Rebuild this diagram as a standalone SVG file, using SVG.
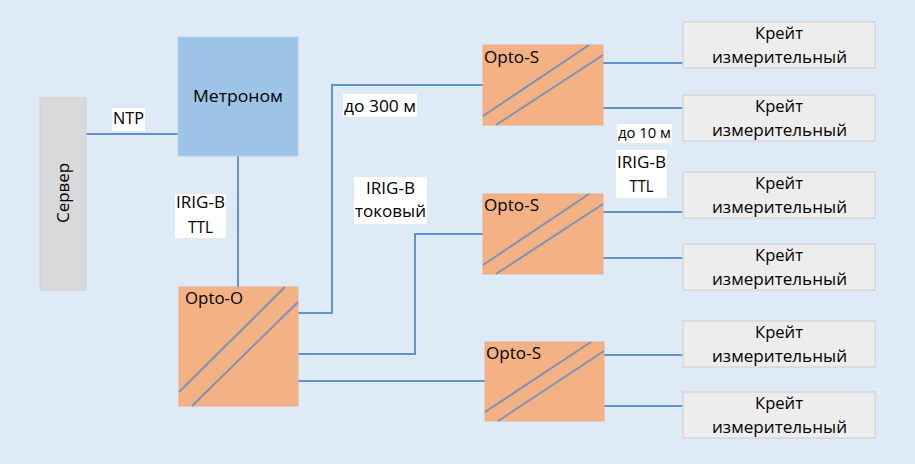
<svg xmlns="http://www.w3.org/2000/svg" width="915" height="464" viewBox="0 0 915 464">
<style>
text{font-family:"Open Sans","Noto Sans","Liberation Sans",sans-serif;font-size:16px;fill:#000;}
.c{text-anchor:middle;}
.con{fill:none;stroke:#5f93cc;stroke-width:2;}
.opto{fill:#f4b183;stroke:#eab08a;stroke-width:1;}
.diag{stroke:#7b93b4;stroke-width:2;fill:none;}
.crate{fill:#ededed;stroke:#d6d6d6;stroke-width:1.5;}
.lbl{fill:#fff;}
</style>
<rect width="915" height="464" fill="#deeaf6"/>
<g id="connectors">
<path class="con" d="M86 134H178"/>
<path class="con" d="M238 156V287"/>
<path class="con" d="M298 313H332V85H483"/>
<path class="con" d="M298 354H415V234H483"/>
<path class="con" d="M298 381H485"/>
<path class="con" d="M603 63H683"/>
<path class="con" d="M603 108H683"/>
<path class="con" d="M603 212H683"/>
<path class="con" d="M603 258H683"/>
<path class="con" d="M604 355H683"/>
<path class="con" d="M604 406H683"/>
</g>
<g id="labels">
<rect class="lbl" x="112" y="108" width="33" height="23"/>
<text class="c" x="128.5" y="124" textLength="31" lengthAdjust="spacingAndGlyphs">NTP</text>
<rect class="lbl" x="175" y="194" width="51" height="44"/>
<text class="c" x="200.5" y="208" textLength="49" lengthAdjust="spacingAndGlyphs">IRIG-B</text>
<text class="c" x="200.5" y="233" textLength="25" lengthAdjust="spacingAndGlyphs">TTL</text>
<rect class="lbl" x="343" y="94" width="74" height="23"/>
<text class="c" x="380" y="112" textLength="72" lengthAdjust="spacingAndGlyphs">до 300 м</text>
<rect class="lbl" x="354" y="177" width="73" height="47"/>
<text class="c" x="390.5" y="194" textLength="49" lengthAdjust="spacingAndGlyphs">IRIG-B</text>
<text class="c" x="390.5" y="217" textLength="71" lengthAdjust="spacingAndGlyphs">токовый</text>
<rect class="lbl" x="617" y="124" width="55" height="19"/>
<text class="c" x="644.5" y="138" style="font-size:14px" textLength="53" lengthAdjust="spacingAndGlyphs">до 10 м</text>
<rect class="lbl" x="616" y="150" width="51" height="48"/>
<text class="c" x="641.5" y="168" textLength="49" lengthAdjust="spacingAndGlyphs">IRIG-B</text>
<text class="c" x="641.5" y="192" textLength="24" lengthAdjust="spacingAndGlyphs">TTL</text>
</g>
<g id="server">
<rect x="40" y="98" width="46" height="192" fill="#d9d9d9" stroke="#cfcfcf" stroke-width="1"/>
<text class="c" transform="translate(69,193) rotate(-90)" textLength="60" lengthAdjust="spacingAndGlyphs">Сервер</text>
</g>
<g id="metronome">
<rect x="178" y="37" width="120" height="119" fill="#9dc3e6" stroke="#b4d0ea" stroke-width="1"/>
<text class="c" x="238" y="102" textLength="90" lengthAdjust="spacingAndGlyphs">Метроном</text>
</g>
<g id="opto-o">
<rect class="opto" x="179" y="287" width="119" height="119"/>
<path class="diag" d="M179 392L285 287M192 406L298 302"/>
<text x="185" y="304" textLength="58" lengthAdjust="spacingAndGlyphs">Opto-O</text>
</g>
<g id="opto-s1">
<rect class="opto" x="483" y="45" width="120" height="80"/>
<path class="diag" d="M483 116L589 45M496 125L603 55"/>
<text x="484" y="63" textLength="55" lengthAdjust="spacingAndGlyphs">Opto-S</text>
</g>
<g id="opto-s2">
<rect class="opto" x="483" y="194" width="120" height="80"/>
<path class="diag" d="M483 265L589 194M496 274L603 204"/>
<text x="484" y="211" textLength="55" lengthAdjust="spacingAndGlyphs">Opto-S</text>
</g>
<g id="opto-s3">
<rect class="opto" x="485" y="342" width="119" height="79"/>
<path class="diag" d="M485 412L591 342M498 421L604 351"/>
<text x="486" y="359" textLength="55" lengthAdjust="spacingAndGlyphs">Opto-S</text>
</g>
<g id="crate1">
<rect class="crate" x="683" y="22" width="192" height="46"/>
<text class="c" x="779" y="39" textLength="48" lengthAdjust="spacingAndGlyphs">Крейт</text>
<text class="c" x="779.5" y="63" textLength="135" lengthAdjust="spacingAndGlyphs">измерительный</text>
</g>
<g id="crate2">
<rect class="crate" x="683" y="95" width="192" height="46"/>
<text class="c" x="779" y="112" textLength="48" lengthAdjust="spacingAndGlyphs">Крейт</text>
<text class="c" x="779.5" y="136" textLength="135" lengthAdjust="spacingAndGlyphs">измерительный</text>
</g>
<g id="crate3">
<rect class="crate" x="683" y="172" width="192" height="46"/>
<text class="c" x="779" y="189" textLength="48" lengthAdjust="spacingAndGlyphs">Крейт</text>
<text class="c" x="779.5" y="213" textLength="135" lengthAdjust="spacingAndGlyphs">измерительный</text>
</g>
<g id="crate4">
<rect class="crate" x="683" y="244" width="192" height="46"/>
<text class="c" x="779" y="261" textLength="48" lengthAdjust="spacingAndGlyphs">Крейт</text>
<text class="c" x="779.5" y="285" textLength="135" lengthAdjust="spacingAndGlyphs">измерительный</text>
</g>
<g id="crate5">
<rect class="crate" x="683" y="321" width="192" height="46"/>
<text class="c" x="779" y="338" textLength="48" lengthAdjust="spacingAndGlyphs">Крейт</text>
<text class="c" x="779.5" y="362" textLength="135" lengthAdjust="spacingAndGlyphs">измерительный</text>
</g>
<g id="crate6">
<rect class="crate" x="683" y="392" width="192" height="46"/>
<text class="c" x="779" y="409" textLength="48" lengthAdjust="spacingAndGlyphs">Крейт</text>
<text class="c" x="779.5" y="433" textLength="135" lengthAdjust="spacingAndGlyphs">измерительный</text>
</g>
</svg>
